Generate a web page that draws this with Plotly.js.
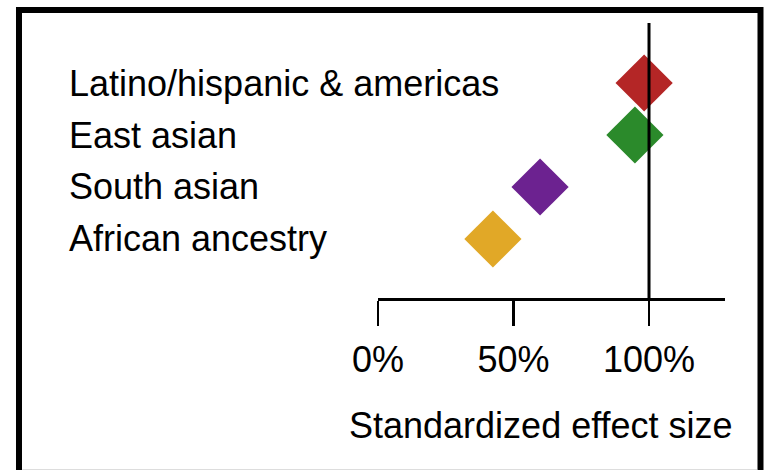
<!DOCTYPE html>
<html>
<head>
<meta charset="utf-8">
<script src="https://cdn.plot.ly/plotly-3.0.1.min.js"></script>
<style>
html,body{margin:0;padding:0;background:#fff;}
#chart{width:765px;height:470px;}
</style>
</head>
<body>
<div id="chart"></div>
<script>
// Data
const categories = ['African ancestry', 'South asian', 'East asian', 'Latino/hispanic & americas'];
const effectSize = [42.4, 59.8, 94.8, 98.2];
const markerColors = ['#e1a827', '#6c2290', '#2b8a2b', '#b42626'];
const tickVals = [0, 50, 100];
const tickText = ['0%', '50%', '100%'];
const xTitle = 'Standardized effect size';
const referenceValue = 100;

const FONT = 'Liberation Sans, Arial, Helvetica, sans-serif';

const trace = {
  type: 'scatter',
  mode: 'markers',
  x: effectSize,
  y: categories,
  marker: {symbol: 'diamond', size: 44, color: markerColors, line: {width: 0}},
  hoverinfo: 'x+y',
  cliponaxis: false,
  showlegend: false
};

const labelAnnotations = categories.map(c => ({
  xref: 'paper', yref: 'y', x: -0.8963, y: c,
  xanchor: 'left', yanchor: 'middle',
  text: c, showarrow: false,
  font: {family: FONT, size: 36, color: '#000'}
}));

const layout = {
  width: 765, height: 470,
  margin: {l: 378, r: 40, t: 23, b: 172, pad: 0},
  paper_bgcolor: '#fff', plot_bgcolor: '#fff',
  font: {family: FONT, color: '#000'},
  showlegend: false,
  xaxis: {
    range: [0, 128.04],
    tickvals: tickVals, ticktext: tickText,
    ticks: 'outside', ticklen: 25, tickwidth: 2.5, tickcolor: '#000',
    ticklabelstandoff: 3,
    showline: true, linewidth: 2.5, linecolor: '#000',
    showgrid: false, zeroline: false,
    tickfont: {family: FONT, size: 36, color: '#000'},
    fixedrange: true
  },
  yaxis: {
    type: 'category', categoryorder: 'array', categoryarray: categories,
    range: [-1.135, 4.154], visible: false, fixedrange: true
  },
  annotations: labelAnnotations.concat([{
    xref: 'paper', yref: 'paper', x: 0.4697, y: -0.462,
    xanchor: 'center', yanchor: 'middle',
    text: xTitle, showarrow: false,
    font: {family: FONT, size: 36, color: '#000'}
  }]),
  shapes: [
    {type: 'line', xref: 'x', yref: 'paper', x0: referenceValue, x1: referenceValue, y0: 0, y1: 1,
     line: {color: '#000', width: 3}, layer: 'above'},
    {type: 'rect', xref: 'paper', yref: 'paper', x0: -1.0346, x1: 1.1023, y0: 1.0473, y1: -0.6436,
     line: {color: '#000', width: 6}, fillcolor: 'rgba(0,0,0,0)', layer: 'above'},
    {type: 'line', xref: 'paper', yref: 'paper', x0: -1.025, x1: 1.093, y0: -0.625, y1: -0.625,
     line: {color: '#c8c8c8', width: 1}, layer: 'above'}
  ]
};

Plotly.newPlot('chart', [trace], layout, {displayModeBar: false, staticPlot: true});
</script>
</body>
</html>
